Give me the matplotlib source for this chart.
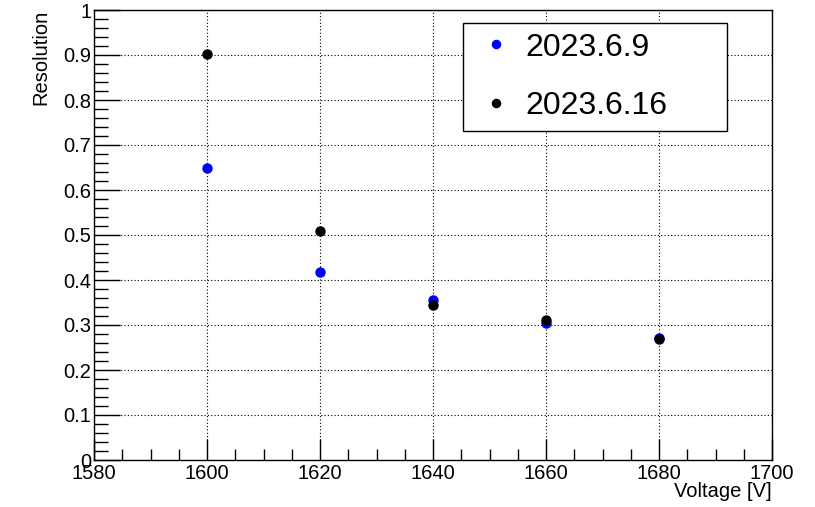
import matplotlib
matplotlib.use("Agg")
import matplotlib.pyplot as plt
from matplotlib.ticker import MultipleLocator

plt.rcParams['font.family'] = ['Liberation Sans', 'DejaVu Sans']

voltage = [1600, 1620, 1640, 1660, 1680]
res_0609 = [0.649, 0.418, 0.356, 0.304, 0.271]
res_0616 = [0.902, 0.509, 0.344, 0.311, 0.269]
labels = ["2023.6.9", "2023.6.16"]

fig = plt.figure(figsize=(8.15, 5.07), dpi=100)
ax = fig.add_axes([94/815, 47/507, 678/815, 450/507])

ax.plot(voltage, res_0609, 'o', color='#0000ff', markersize=6.5, label=labels[0], zorder=3)
ax.plot(voltage, res_0616, 'o', color='black', markersize=6.5, label=labels[1], zorder=4)

ax.set_xlim(1580, 1700)
ax.set_ylim(0, 1)
ax.xaxis.set_major_locator(MultipleLocator(20))
ax.xaxis.set_minor_locator(MultipleLocator(5))
ax.yaxis.set_minor_locator(MultipleLocator(0.02))
ax.set_yticks([0, 0.1, 0.2, 0.3, 0.4, 0.5, 0.6, 0.7, 0.8, 0.9, 1.0])
ax.set_yticklabels(['0', '0.1', '0.2', '0.3', '0.4', '0.5', '0.6', '0.7', '0.8', '0.9', '1'])

ax.tick_params(axis='both', which='both', direction='in', top=False, right=False,
               labelsize=14.5, width=1)
ax.tick_params(axis='x', which='major', length=15, pad=3)
ax.tick_params(axis='x', which='minor', length=8)
ax.tick_params(axis='y', which='major', length=19, pad=2)
ax.tick_params(axis='y', which='minor', length=10)

ax.grid(True, which='major', linestyle=(0, (1, 2)), color='black', linewidth=0.8)
for s in ax.spines.values():
    s.set_linewidth(1.0)

ax.set_xlabel("Voltage [V]", fontsize=14.5, loc='right', labelpad=-1)
ax.set_ylabel("Resolution", fontsize=14.5, loc='top', labelpad=9)

leg = ax.legend(loc='upper left', bbox_to_anchor=(0.544, 0.971, 0.39, 0.0), mode='expand',
                fontsize=23, frameon=True, fancybox=False, framealpha=1,
                edgecolor='black', borderpad=0.3, labelspacing=0.9,
                handlelength=1.5, handletextpad=0.15, borderaxespad=0, markerscale=0.9)
leg.get_frame().set_linewidth(1.0)

fig.savefig("out.png", dpi=100)
